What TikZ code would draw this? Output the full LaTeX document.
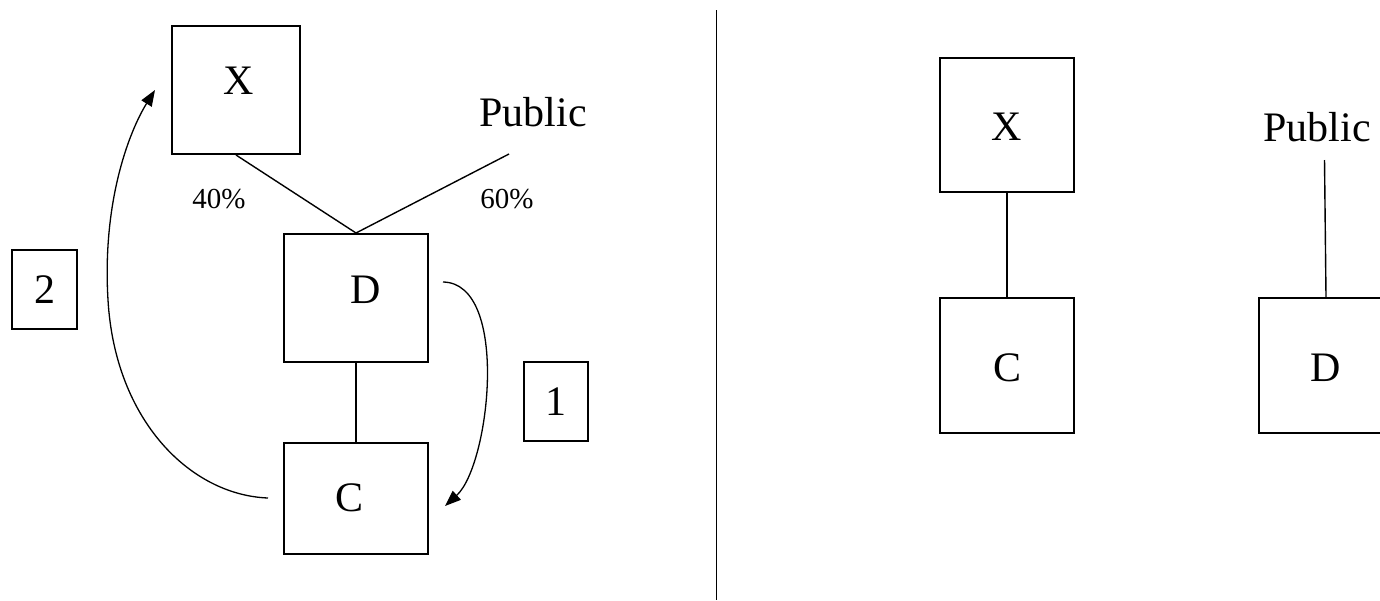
\documentclass[tikz,border=0pt]{standalone}
\usepackage{fontspec}
\setmainfont{Liberation Serif}
\usetikzlibrary{arrows.meta}
\begin{document}
\begin{tikzpicture}[x=1pt,y=-1pt,
  box/.style={draw,line width=2pt,inner sep=0pt},
  big/.style={inner sep=0pt,font=\fontsize{42}{50}\selectfont},
  small/.style={inner sep=0pt,font=\fontsize{29}{34}\selectfont},
  conn/.style={line width=1.4pt},
  flow/.style={line width=1.3pt,-{Triangle[length=16pt,width=12pt]}}]
\useasboundingbox (0,0) rectangle (1380,600);
\clip (0,0) rectangle (1380,600);
% ---------- left panel ----------
\node[box,minimum width=128pt,minimum height=128pt] (X1) at (236,90) {};
\node[box,minimum width=144pt,minimum height=128pt] (D1) at (356,298) {};
\node[box,minimum width=144pt,minimum height=111pt] (C1) at (356,498) {};
\node[big] (X1t) at (239,81) {X};
\node[big] (D1t) at (366,290) {D};
\node[big] (C1t) at (350,498) {C};
\node[big] (P1) at (533,112) {Public};
\coordinate (P1end) at (509,154);
\node[small] (p40) at (219,199) {40\%};
\node[small] (p60) at (507,199) {60\%};
\node[box,minimum width=65pt,minimum height=79pt] (B2) at (44.5,289.5) {};
\node[big] at (B2) {2};
\node[box,minimum width=64pt,minimum height=79pt] (B1) at (556,401.5) {};
\node[big] at (B1) {1};
\draw[conn] (X1.south) -- (D1.north);
\draw[conn] (P1end) -- (D1.north);
\draw[conn] (D1.south) -- (C1.north);
\coordinate (a1s) at (443,282);
\coordinate (a1e) at (445,506);
\draw[flow] (a1s) .. controls (510,283) and (490,465) .. (a1e);
\coordinate (a2s) at (268,498);
\coordinate (a2m) at (108,300);
\coordinate (a2e) at (155,90);
\draw[flow] (a2s) .. controls (190,495) and (115,420) .. (a2m)
  .. controls (102,200) and (130,130) .. (a2e);
% ---------- divider ----------
\coordinate (divtop) at (716.5,10);
\coordinate (divbot) at (716.5,600);
\draw[line width=1.6pt] (divtop) -- (divbot);
% ---------- right panel ----------
\node[box,minimum width=134pt,minimum height=134pt] (X2) at (1007,125) {};
\node[box,minimum width=134pt,minimum height=135pt] (C2) at (1007,365.5) {};
\node[box,minimum width=134pt,minimum height=135pt] (D2) at (1326,365.5) {};
\node[big] at (1007,127) {X};
\node[big] at (1007,368) {C};
\node[big] at (1326,368) {D};
\node[big] (P2) at (1317,127) {Public};
\coordinate (P2end) at (1324.5,160);
\draw[conn] (X2.south) -- (C2.north);
\draw[conn] (P2end) -- (D2.north);
\end{tikzpicture}
\end{document}
